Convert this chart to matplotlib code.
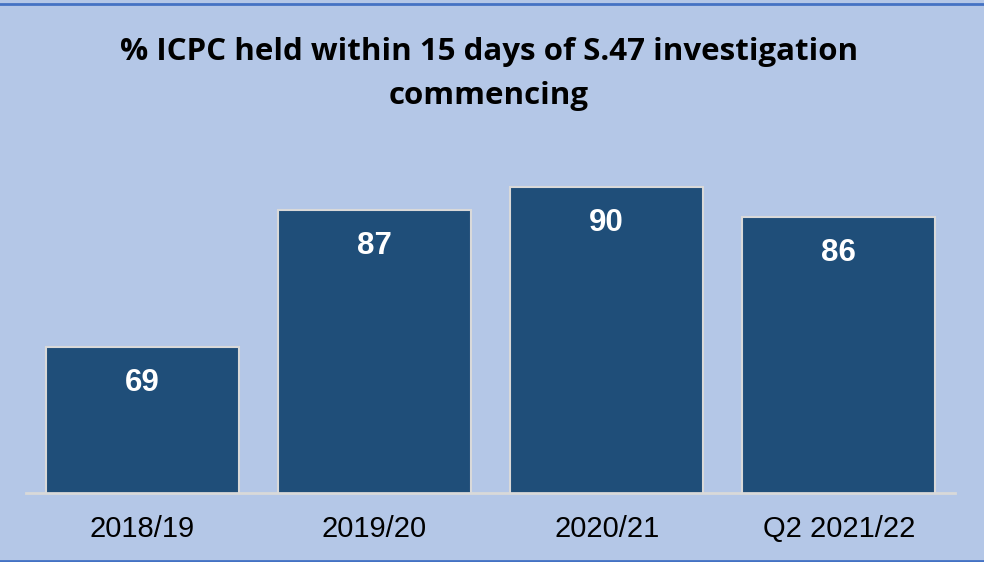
import matplotlib.pyplot as plt
from matplotlib.lines import Line2D

categories = ['2018/19', '2019/20', '2020/21', 'Q2 2021/22']
values = [69, 87, 90, 86]
title = '% ICPC held within 15 days of S.47 investigation\ncommencing'

bg = '#B4C7E7'
bar_color = '#1F4E79'

fig = plt.figure(figsize=(9.84, 5.62), dpi=100, facecolor=bg)
# blue lines at top and bottom of the chart
for yy in (1 - 3.5 / 562, 1.5 / 562):
    fig.add_artist(Line2D([0, 1], [yy, yy], transform=fig.transFigure,
                          color='#4472C4', linewidth=2))

ax = fig.add_axes([26 / 984, 69 / 562, 929 / 984, 383 / 562])
ax.set_facecolor(bg)

x = range(len(categories))
bars = ax.bar(x, values, width=0.83, color=bar_color, edgecolor='#D9D9D9', linewidth=1.5)

for b, v in zip(bars, values):
    ax.annotate(str(v), (b.get_x() + b.get_width() / 2, v), xytext=(0, -36),
                textcoords='offset pixels', ha='center', va='center',
                color='white', fontsize=22.5, fontweight='bold', family='Liberation Sans')

ax.set_xlim(-0.5, 3.5)
ax.set_ylim(50, 100)
ax.set_xticks(list(x))
ax.set_xticklabels(categories, fontsize=21, family='Liberation Sans')
ax.tick_params(axis='x', length=0, pad=16)
ax.set_yticks([])
for s in ['top', 'left', 'right']:
    ax.spines[s].set_visible(False)
ax.spines['bottom'].set_color('#D9D9D9')
ax.spines['bottom'].set_linewidth(2)

fig.text(0.497, 1 - 74 / 562, title, ha='center', va='center', fontsize=22.5,
         fontweight='bold', family='Open Sans', linespacing=1.62)

plt.savefig('out.png', dpi=100, facecolor=bg)
plt.close()
